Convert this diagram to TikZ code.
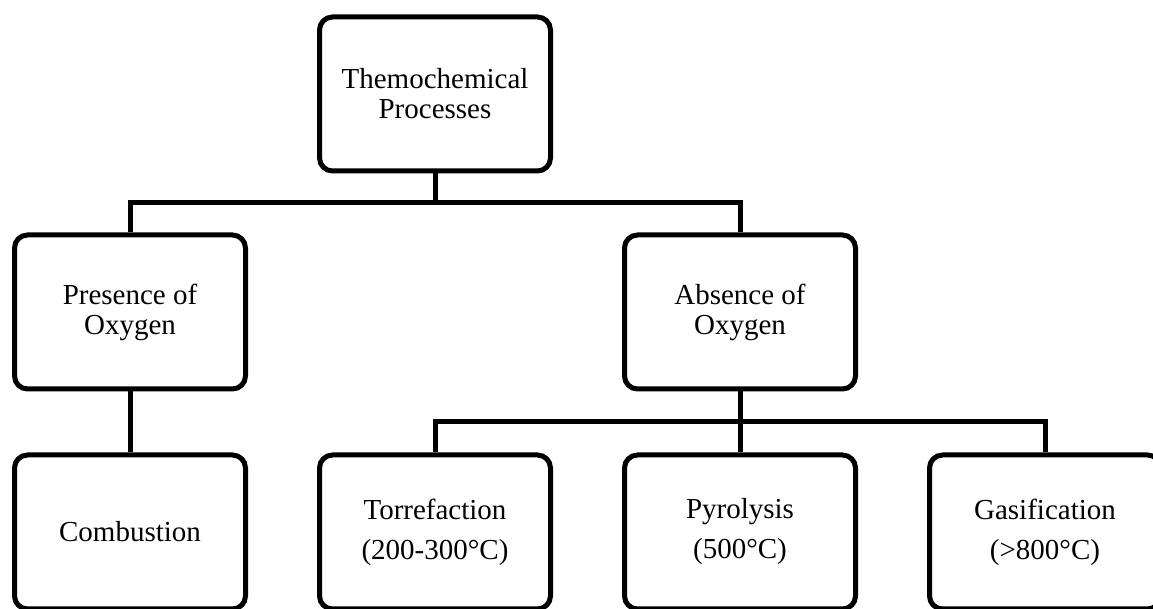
\documentclass[tikz,border=0pt]{standalone}
\usepackage{fontspec}
\setmainfont{Liberation Serif}
\usepackage{tikz}
\tikzset{
    process-box/.style = {draw=black, fill=white, line width=2.5pt, rectangle, rounded corners=6.5pt, minimum width=115.5pt, minimum height=77pt, align=center, font=\fontsize{14.5}{15}\selectfont},
    tree-line/.style = {draw=black, line width=2.5pt},
}

\begin{document}
\begin{tikzpicture}[x=0.5pt, y=-0.5pt]
\useasboundingbox (0,0) rectangle (1153,609);
\node [process-box] (top) at (435,94) {Themochemical\\Processes};
\node [process-box] (presence) at (130,312) {Presence of\\Oxygen};
\node [process-box] (absence) at (740,312) {Absence of\\Oxygen};
\node [process-box] (combustion) at (130,532) {Combustion};
\node [process-box] (torrefaction) at (435,532) {Torrefaction\\[5pt](200-300°C)};
\node [process-box] (pyrolysis) at (740,532) {Pyrolysis\\[5pt](500°C)};
\node [process-box] (gasification) at (1045,532) {Gasification\\[5pt](>800°C)};
\coordinate (fork-top) at (435,203);
\coordinate (fork-low) at (740,422);
\draw [tree-line] (top) -- (fork-top);
\draw [tree-line] (presence.north) |- (fork-top) -| (absence.north);
\draw [tree-line] (presence) -- (combustion);
\draw [tree-line] (absence) -- (pyrolysis);
\draw [tree-line] (torrefaction.north) |- (fork-low) -| (gasification.north);
\end{tikzpicture}
\end{document}
